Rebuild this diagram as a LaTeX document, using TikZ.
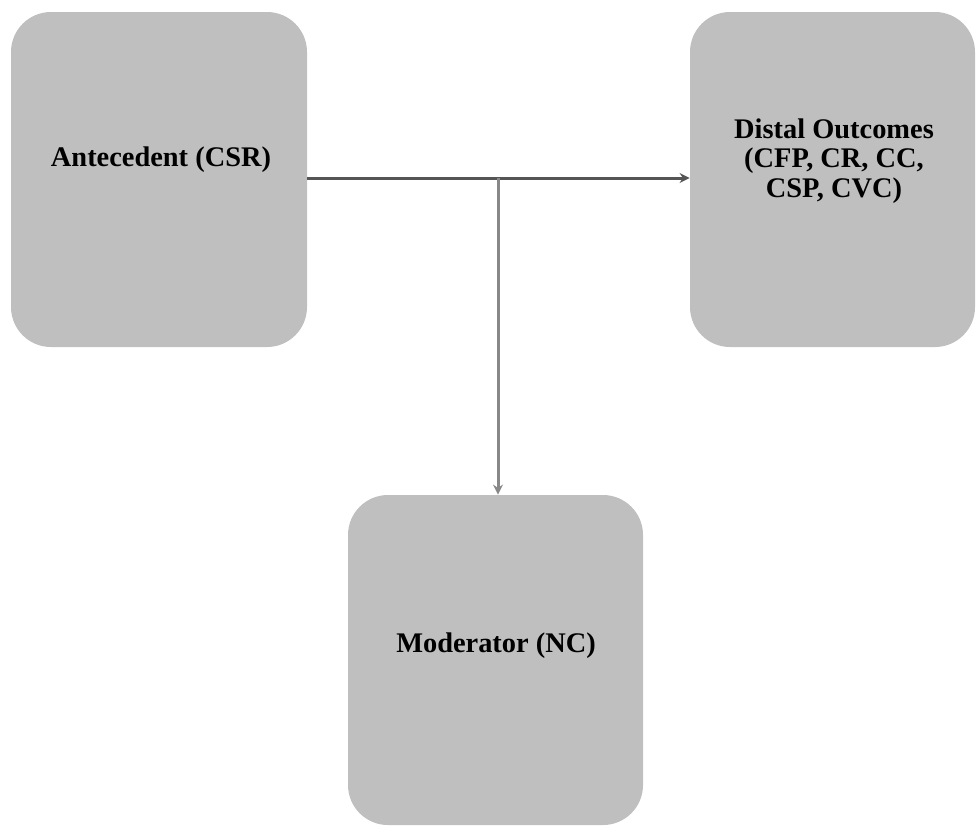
\documentclass[tikz,border=0pt]{standalone}
\usepackage{fontspec}
\setmainfont{Liberation Serif}
\usetikzlibrary{arrows.meta}
\definecolor{boxgray}{HTML}{BFBFBF}
\definecolor{linegray}{HTML}{555555}
\tikzset{%
    blk/.style={rectangle,rounded corners=20pt,fill=boxgray,draw=none,inner sep=0pt},
    lbl/.style={font=\bfseries\fontsize{14.2}{14.8}\selectfont,align=center}
}

\begin{document}
\begin{tikzpicture}[
        x=0.5pt, y=-0.5pt,
        link/.style={line width=1.5pt,draw=linegray,-{Stealth[length=5pt,width=5pt]}}
        ]
        \useasboundingbox (0,0) rectangle (978,826);
        \node[blk, minimum width=148pt, minimum height=167.5pt] (ante) at (159,179.5){};
        \node[blk, minimum width=142.5pt, minimum height=167.5pt] (dist) at (832.5,179.5){};
        \node[blk, minimum width=147.5pt, minimum height=165pt] (mod) at (495.5,660){};

        \node[lbl] (antetxt) at (161,160){Antecedent (CSR)};
        \node[lbl] (disttxt) at (834,161){Distal Outcomes\\(CFP, CR, CC,\\CSP, CVC)};
        \node[lbl] (modtxt) at (496,646){Moderator (NC)};

        \coordinate (split) at (498,178);
        \draw[link] (ante.east |- split) -- (dist.west |- split);
        \draw[link, draw=linegray!70] (split) -- (split |- mod.north);
    \end{tikzpicture}
\end{document}
